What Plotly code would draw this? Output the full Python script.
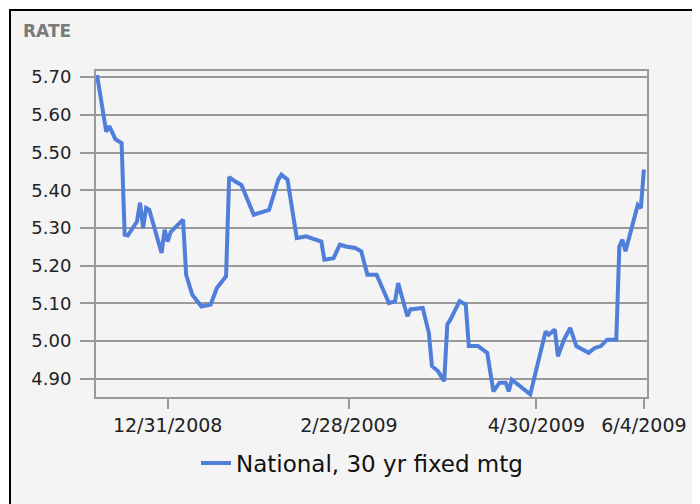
import plotly.graph_objects as go

dates = [
    "2008-12-08", "2008-12-11", "2008-12-12", "2008-12-13", "2008-12-14", "2008-12-16",
    "2008-12-17", "2008-12-18", "2008-12-21", "2008-12-22", "2008-12-23", "2008-12-24",
    "2008-12-25", "2008-12-29", "2008-12-30", "2008-12-31", "2009-01-01", "2009-01-05",
    "2009-01-06", "2009-01-08", "2009-01-11", "2009-01-14", "2009-01-16", "2009-01-19",
    "2009-01-20", "2009-01-22", "2009-01-24", "2009-01-28", "2009-01-31", "2009-02-02",
    "2009-02-05", "2009-02-06", "2009-02-08", "2009-02-11", "2009-02-14", "2009-02-19",
    "2009-02-20", "2009-02-23", "2009-02-25", "2009-02-27", "2009-03-02", "2009-03-04",
    "2009-03-06", "2009-03-09", "2009-03-13", "2009-03-15", "2009-03-16", "2009-03-19",
    "2009-03-20", "2009-03-24", "2009-03-26", "2009-03-27", "2009-03-29", "2009-03-31",
    "2009-04-01", "2009-04-02", "2009-04-05", "2009-04-07", "2009-04-08", "2009-04-11",
    "2009-04-14", "2009-04-16", "2009-04-18", "2009-04-20", "2009-04-21", "2009-04-22",
    "2009-04-24", "2009-04-28", "2009-05-03", "2009-05-04", "2009-05-06", "2009-05-07",
    "2009-05-09", "2009-05-11", "2009-05-13", "2009-05-17", "2009-05-19", "2009-05-21",
    "2009-05-23", "2009-05-26", "2009-05-27", "2009-05-28", "2009-05-29", "2009-06-01",
    "2009-06-02", "2009-06-03", "2009-06-04",
]
rates = [
    5.705, 5.555, 5.570, 5.550, 5.535, 5.525,
    5.282, 5.280, 5.317, 5.367, 5.300, 5.353,
    5.348, 5.234, 5.295, 5.264, 5.290, 5.322,
    5.176, 5.123, 5.092, 5.097, 5.141, 5.172,
    5.435, 5.423, 5.414, 5.335, 5.344, 5.348,
    5.428, 5.441, 5.428, 5.273, 5.278, 5.264,
    5.216, 5.220, 5.256, 5.251, 5.247, 5.238,
    5.176, 5.176, 5.101, 5.106, 5.154, 5.066,
    5.084, 5.088, 5.022, 4.934, 4.920, 4.894,
    5.044, 5.057, 5.106, 5.097, 4.987, 4.987,
    4.969, 4.867, 4.890, 4.890, 4.867, 4.898,
    4.885, 4.859, 5.026, 5.017, 5.031, 4.960,
    5.004, 5.035, 4.987, 4.969, 4.982, 4.987,
    5.004, 5.004, 5.251, 5.269, 5.238, 5.330,
    5.361, 5.353, 5.455,
]
series_name = "National, 30 yr fixed mtg"
y_ticks = [4.9, 5.0, 5.1, 5.2, 5.3, 5.4, 5.5, 5.6, 5.7]
y_tick_labels = ["4.90", "5.00", "5.10", "5.20", "5.30", "5.40", "5.50", "5.60", "5.70"]
x_ticks = ["2008-12-31", "2009-02-28", "2009-04-30", "2009-06-04"]
x_tick_labels = ["12/31/2008", "2/28/2009", "4/30/2009", "6/4/2009"]

GRID = "#9a9a9a"
FONT = "DejaVu Sans"

fig = go.Figure()
fig.add_trace(go.Scatter(
    x=dates, y=rates, mode="lines", name=series_name,
    line=dict(color="#4f7edb", width=4),
))

# page body has an 8px margin: figure coords = screen coords - 8
OFF = 8
W, H = 700 - OFF, 504 - OFF
L, R, T, B = 96 - OFF, 647 - OFF, 71 - OFF, 397 - OFF

def px(x):  # screen x -> paper
    return (x - OFF - L) / (R - L)

def py(y):  # screen y -> paper
    return (B - (y - OFF)) / (B - T)

fig.update_layout(
    width=W, height=H,
    margin=dict(l=L, r=W - R, t=T, b=H - B, pad=0),
    paper_bgcolor="white",
    plot_bgcolor="#fdfdfd",
    font=dict(family=FONT, color="#222222"),
    showlegend=True,
    legend=dict(
        orientation="h", x=px(196), xanchor="left", y=py(463), yanchor="middle",
        font=dict(size=23, family=FONT, color="#111111"),
        bgcolor="rgba(0,0,0,0)",
    ),
    shapes=[
        dict(type="rect", xref="paper", yref="paper",
             x0=px(10), x1=px(740), y0=py(10), y1=py(540),
             fillcolor="#f4f4f4", line=dict(color="black", width=2), layer="below"),
    ],
    annotations=[
        dict(text="<b>RATE</b>", xref="paper", yref="paper", x=px(21), y=py(31),
             xanchor="left", yanchor="middle", showarrow=False,
             font=dict(size=17, family=FONT, color="#7a7a7a")),
    ],
)

fig.update_xaxes(
    type="date", range=["2008-12-07 16:00", "2009-06-05 00:00"],
    tickvals=x_ticks, ticktext=x_tick_labels,
    showgrid=False, zeroline=False,
    showline=True, linecolor=GRID, linewidth=2, mirror=True,
    ticks="outside", ticklen=10, tickwidth=1.5, tickcolor=GRID,
    tickfont=dict(size=19, family=FONT, color="#222222"),
)
fig.update_yaxes(
    range=[4.852, 5.716],
    tickvals=y_ticks, ticktext=y_tick_labels,
    showgrid=True, gridcolor=GRID, gridwidth=1.5, zeroline=False,
    showline=True, linecolor=GRID, linewidth=2, mirror=True,
    ticks="outside", ticklen=14, tickwidth=1.5, tickcolor=GRID,
    ticklabelstandoff=5,
    tickfont=dict(size=18, family=FONT, color="#222222"),
)

fig.write_html("out.html")
